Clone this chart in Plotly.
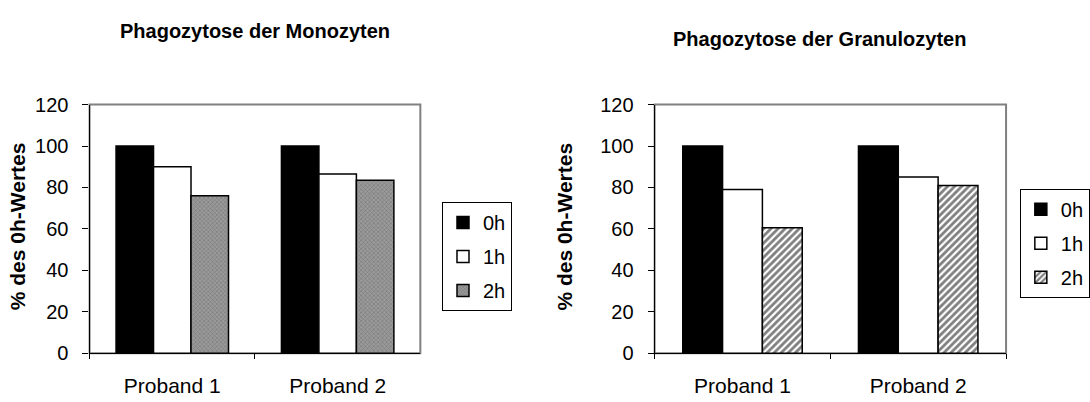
import plotly.graph_objects as go

categories = ["Proband 1", "Proband 2"]
series_names = ["0h", "1h", "2h"]
mono_0h = [100, 100]
mono_1h = [90, 86.5]
mono_2h = [76, 83.5]
gran_0h = [100, 100]
gran_1h = [79, 85]
gran_2h = [60.5, 81]
y_ticks = [0, 20, 40, 60, 80, 100, 120]

W, H = 1090, 402
FONT = "Liberation Sans, Arial, sans-serif"

fig = go.Figure()

line = dict(color="black", width=1.5)
mono_styles = [
    dict(color="black", line=line),
    dict(color="white", line=line),
    dict(color="#808080", line=line,
         pattern=dict(shape="x", fgcolor="#555555", bgcolor="#9a9a9a", size=3, solidity=0.35)),
]
gran_styles = [
    dict(color="black", line=line),
    dict(color="white", line=line),
    dict(color="white", line=line,
         pattern=dict(shape="/", fgcolor="black", bgcolor="white", size=5, solidity=0.55)),
]

for name, vals, st in zip(series_names, [mono_0h, mono_1h, mono_2h], mono_styles):
    fig.add_trace(go.Bar(x=categories, y=vals, name=name, marker=st,
                         xaxis="x", yaxis="y", legend="legend", legendgroup="m" + name))
for name, vals, st in zip(series_names, [gran_0h, gran_1h, gran_2h], gran_styles):
    fig.add_trace(go.Bar(x=categories, y=vals, name=name, marker=st,
                         xaxis="x2", yaxis="y2", legend="legend2", legendgroup="g" + name))

def px_x(a, b):
    return [a / W, b / W]

def px_y(top, bottom):
    return [1 - bottom / H, 1 - top / H]

xcommon = dict(showline=True, linecolor="black", linewidth=1.2, ticks="outside",
               tickson="boundaries", ticklen=5, tickcolor="black", showgrid=False,
               ticklabelstandoff=14,
               tickfont=dict(size=21, color="black", family=FONT), fixedrange=True)
ycommon = dict(range=[0, 120], tickvals=y_ticks, showline=True, linecolor="black",
               linewidth=1.2, ticks="outside", ticklen=6, tickcolor="black",
               showgrid=False, zeroline=False, ticklabelstandoff=10,
               tickfont=dict(size=20, color="black", family=FONT), fixedrange=True)

ydom = px_y(99, 362)
legend_common = dict(xanchor="left", yanchor="top", bordercolor="black", borderwidth=1,
                     bgcolor="white", font=dict(size=20, family=FONT, color="black"),
                     tracegroupgap=5, itemwidth=30)
fig.update_layout(
    width=W, height=H,
    margin=dict(l=0, r=0, t=0, b=0),
    paper_bgcolor="white", plot_bgcolor="white",
    barmode="group", bargap=0.32, bargroupgap=0,
    font=dict(family=FONT, color="black"),
    xaxis=dict(domain=px_x(91, 427), anchor="y", **xcommon),
    yaxis=dict(domain=ydom, anchor="x", **ycommon),
    xaxis2=dict(domain=px_x(665, 1022), anchor="y2", **xcommon),
    yaxis2=dict(domain=ydom, anchor="x2", **ycommon),
    legend=dict(x=449 / W, y=1 - 202 / H, **legend_common),
    legend2=dict(x=1036 / W, y=1 - 188 / H, **legend_common),
    showlegend=True,
)

for xr, yr in [("x domain", "y domain"), ("x2 domain", "y2 domain")]:
    fig.add_shape(type="rect", xref=xr, yref=yr, x0=0, x1=1, y0=0, y1=1,
                  line=dict(color="#808080", width=2), layer="below")

annotations = [
    dict(text="<b>Phagozytose der Monozyten</b>", x=120 / W, y=1 - 21 / H,
         xanchor="left", font=dict(size=20)),
    dict(text="<b>Phagozytose der Granulozyten</b>", x=682 / W, y=1 - 30 / H,
         xanchor="left", font=dict(size=20)),
    dict(text="<b>% des 0h-Wertes</b>", x=18 / W, y=1 - 228 / H, textangle=-90,
         xanchor="center", font=dict(size=21)),
    dict(text="<b>% des 0h-Wertes</b>", x=573 / W, y=1 - 228 / H, textangle=-90,
         xanchor="center", font=dict(size=21)),
]
for a in annotations:
    fig.add_annotation(xref="paper", yref="paper", showarrow=False,
                       yanchor="middle", **a)

fig.write_html("out.html")
